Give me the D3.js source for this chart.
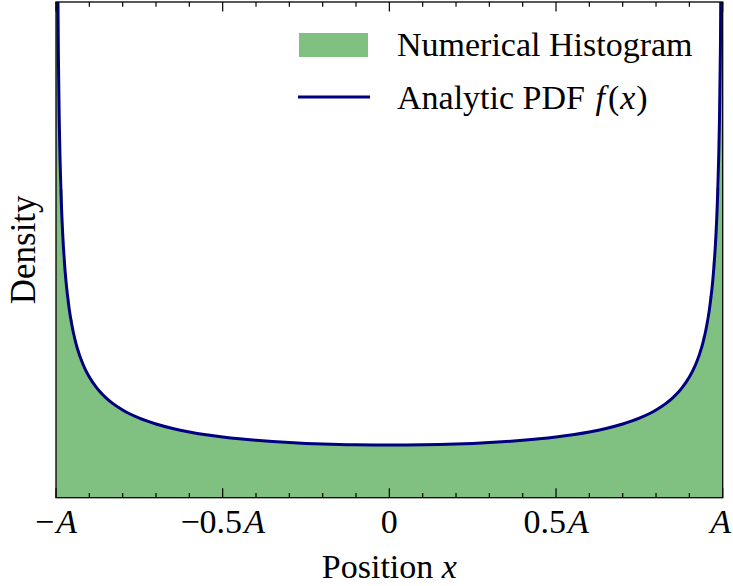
<!DOCTYPE html>
<html>
<head>
<meta charset="utf-8">
<script src="https://cdn.jsdelivr.net/npm/d3@7"></script>
<style>
  body { margin: 0; background: #fff; }
  text { font-family: 'Liberation Serif', 'Times New Roman', serif; fill: #000; }
  .math { font-style: italic; }
</style>
</head>
<body>
<div id="chart"></div>
<script>
// histogram: 200 bins of width 0.01 from -A to A (A = 1), density values
var binStart = -1
var binWidth = 0.01
var histLeft = [
    4.512,1.867,1.443,1.213,1.078,0.9745,0.9002,0.8372,0.7903,0.7474,
    0.7148,0.6829,0.6584,0.6336,0.6146,0.5945,0.5792,0.5626,0.5500,0.5358,
    0.5253,0.5131,0.5043,0.4936,0.4859,0.4766,0.4699,0.4617,0.4558,0.4482,
    0.4432,0.4364,0.4319,0.4257,0.4218,0.4160,0.4125,0.4072,0.4042,0.3992,
    0.3965,0.3919,0.3896,0.3852,0.3832,0.3792,0.3773,0.3735,0.3718,0.3683,
    0.3668,0.3635,0.3622,0.3590,0.3579,0.3549,0.3539,0.3512,0.3503,0.3477,
    0.3469,0.3445,0.3438,0.3415,0.3410,0.3387,0.3383,0.3361,0.3358,0.3337,
    0.3335,0.3316,0.3314,0.3297,0.3296,0.3279,0.3279,0.3263,0.3263,0.3248,
    0.3249,0.3236,0.3238,0.3225,0.3228,0.3217,0.3220,0.3208,0.3212,0.3201,
    0.3206,0.3196,0.3200,0.3191,0.3194,0.3186,0.3190,0.3181,0.3187,0.3180
]
var histRight = [
    0.3179,0.3188,0.3181,0.3190,0.3183,0.3185,0.3195,0.3189,0.3192,0.3203,
    0.3197,0.3206,0.3211,0.3209,0.3214,0.3226,0.3224,0.3236,0.3235,0.3249,
    0.3250,0.3262,0.3263,0.3279,0.3281,0.3288,0.3305,0.3308,0.3325,0.3328,
    0.3345,0.3350,0.3370,0.3374,0.3395,0.3401,0.3423,0.3430,0.3452,0.3461,
    0.3486,0.3494,0.3521,0.3531,0.3559,0.3570,0.3600,0.3612,0.3645,0.3658,
    0.3693,0.3708,0.3745,0.3762,0.3802,0.3821,0.3864,0.3885,0.3931,0.3954,
    0.4004,0.4030,0.4085,0.4113,0.4172,0.4205,0.4270,0.4306,0.4377,0.4418,
    0.4496,0.4545,0.4630,0.4686,0.4780,0.4846,0.4951,0.5028,0.5147,0.5238,
    0.5375,0.5483,0.5644,0.5775,0.5964,0.6127,0.6357,0.6563,0.6851,0.7123,
    0.7498,0.7880,0.8395,0.8962,0.9778,1.072,1.221,1.436,1.876,4.498
]

// analytic pdf sampled
var pdfX = [-0.999,-0.997,-0.995,-0.993,-0.99,-0.985,-0.98,-0.975,-0.97,-0.96,-0.95,-0.94,-0.93,-0.92,-0.91,-0.9,-0.88,-0.87,-0.85,-0.83,-0.8,
    -0.75,-0.7,-0.65,-0.6,-0.55,-0.5,-0.45,-0.4,-0.35,-0.3,-0.25,-0.2,-0.15,-0.1,-0.05,0,
    0.05,0.1,0.15,0.2,0.25,0.3,0.35,0.4,0.45,0.5,0.55,0.6,0.65,0.7,0.75,
    0.8,0.83,0.85,0.87,0.88,0.9,0.91,0.92,0.93,0.94,0.95,0.96,0.97,0.975,0.98,0.985,0.99,0.993,0.995,0.997,0.999]
var pdfY = [7.119,4.1125,3.1872,2.6950,2.2564,1.8447,1.5996,1.4325,1.3094,1.1368,1.0194,0.9330,0.8660,0.8122,0.7677,0.7303,0.6702,0.6456,0.6043,0.5707,0.5305,
    0.4812,0.4457,0.4189,0.3979,0.3811,0.3676,0.3564,0.3473,0.3398,0.3337,0.3287,0.3249,0.3220,0.3199,0.3187,0.3183,
    0.3187,0.3199,0.3220,0.3249,0.3287,0.3337,0.3398,0.3473,0.3564,0.3676,0.3811,0.3979,0.4189,0.4457,0.4812,
    0.5305,0.5707,0.6043,0.6456,0.6702,0.7303,0.7677,0.8122,0.8660,0.9330,1.0194,1.1368,1.3094,1.4325,1.5996,1.8447,2.2564,2.6950,3.1872,4.1125,7.119]

var xTickValues = [-1, -0.5, 0, 0.5, 1]
var xTickLabels = [['\u2212', 'A'], ['\u22120.5', 'A'], ['0', ''], ['0.5', 'A'], ['', 'A']]
var minorTicks = [-0.9,-0.8,-0.7,-0.6,-0.4,-0.3,-0.2,-0.1,0.1,0.2,0.3,0.4,0.6,0.7,0.8,0.9]

var width = 733
var height = 586
var margin = { left: 56, right: 10.3, top: 2, bottom: 88.3 }

var x = d3.scaleLinear()
    .domain([-1, 1])
    .range([margin.left, width - margin.right])

var y = d3.scaleLinear()
    .domain([0, 3])
    .range([height - margin.bottom, margin.top])

var svg = d3.select('#chart').append('svg')
    .attr('width', width)
    .attr('height', height)

svg.append('defs').append('clipPath')
    .attr('id', 'plotclip')
    .append('rect')
    .attr('x', x(-1))
    .attr('y', y(3))
    .attr('width', x(1) - x(-1))
    .attr('height', y(0) - y(3))

var hist = histLeft.concat(histRight)
var histPts = hist.map(function(h, i) {
    return { x: binStart + i * binWidth, h: h }
})
histPts.push({ x: binStart + hist.length * binWidth, h: hist[hist.length - 1] })

var plot = svg.append('g').attr('clip-path', 'url(#plotclip)')

plot.append('path')
    .datum(histPts)
    .attr('fill', '#80c080')
    .attr('d', d3.area()
        .curve(d3.curveStepAfter)
        .x(function(d) { return x(d.x) })
        .y0(y(0))
        .y1(function(d) { return y(d.h) }))

var pdf = pdfX.map(function(v, i) { return [v, pdfY[i]] })

plot.append('path')
    .datum(pdf)
    .attr('fill', 'none')
    .attr('stroke', '#000080')
    .attr('stroke-width', 3)
    .attr('d', d3.line()
        .curve(d3.curveMonotoneX)
        .x(function(d) { return x(d[0]) })
        .y(function(d) { return y(d[1]) }))

// frame
svg.append('rect')
    .attr('x', x(-1))
    .attr('y', y(3))
    .attr('width', x(1) - x(-1))
    .attr('height', y(0) - y(3))
    .attr('fill', 'none')
    .attr('stroke', '#000')
    .attr('stroke-width', 1.3)

// inward ticks on bottom and top
var ticks = svg.append('g').attr('stroke', '#000').attr('stroke-width', 1.2)
function drawTicks(vals, len) {
    vals.forEach(function(v) {
        ticks.append('line')
            .attr('x1', x(v)).attr('x2', x(v))
            .attr('y1', y(0)).attr('y2', y(0) - len)
        ticks.append('line')
            .attr('x1', x(v)).attr('x2', x(v))
            .attr('y1', y(3)).attr('y2', y(3) + len)
    })
}
drawTicks(xTickValues, 9.5)
drawTicks(minorTicks, 4.8)

xTickValues.forEach(function(v, i) {
    // last label sits against the right edge of the figure
    var last = i === xTickValues.length - 1
    var t = svg.append('text')
        .attr('x', last ? width - 2 : x(v))
        .attr('y', 533)
        .attr('text-anchor', last ? 'end' : 'middle')
        .style('font-size', '34px')
    t.append('tspan').text(xTickLabels[i][0])
    if (xTickLabels[i][1]) t.append('tspan').attr('class', 'math').attr('dx', last ? 0 : 2).text(xTickLabels[i][1])
})

var xl = svg.append('text')
    .attr('x', x(0))
    .attr('y', 578)
    .attr('text-anchor', 'middle')
    .style('font-size', '34px')
xl.append('tspan').text('Position ')
xl.append('tspan').attr('class', 'math').text('x')

svg.append('text')
    .attr('transform', 'translate(35,' + ((y(0) + y(3)) / 2) + ') rotate(-90)')
    .attr('text-anchor', 'middle')
    .style('font-size', '35px')
    .text('Density')

// legend
var legend = svg.append('g')
legend.append('rect')
    .attr('x', 299).attr('y', 33)
    .attr('width', 69).attr('height', 24)
    .attr('fill', '#80c080')
legend.append('text')
    .attr('x', 397).attr('y', 56)
    .style('font-size', '34px')
    .text('Numerical Histogram')
legend.append('line')
    .attr('x1', 298).attr('x2', 370)
    .attr('y1', 97).attr('y2', 97)
    .attr('stroke', '#000080')
    .attr('stroke-width', 3)
var lt = legend.append('text')
    .attr('x', 397).attr('y', 109)
    .style('font-size', '34px')
lt.append('tspan').text('Analytic PDF ')
lt.append('tspan').attr('class', 'math').attr('dx', 2).text('f')
lt.append('tspan').attr('dx', 3).text('(')
lt.append('tspan').attr('class', 'math').attr('dx', 1).text('x')
lt.append('tspan').attr('dx', 1).text(')')
</script>
</body>
</html>
